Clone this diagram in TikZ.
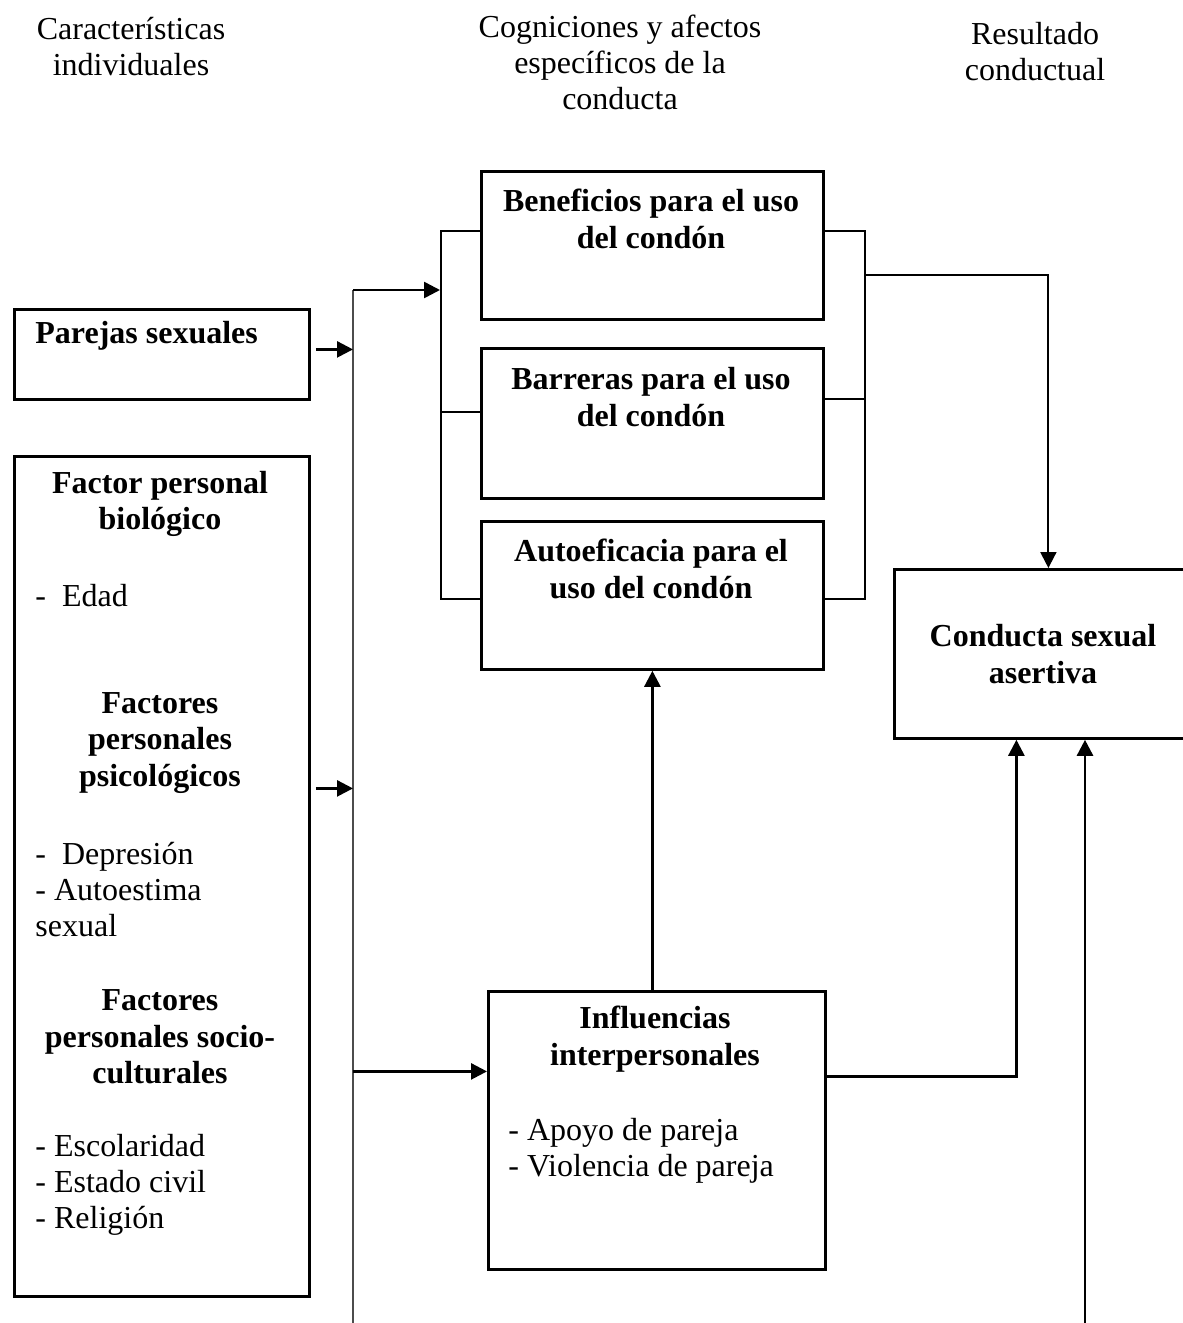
\documentclass[tikz,border=0pt]{standalone}
\usepackage{fontspec}
\setmainfont{Liberation Serif}
\usetikzlibrary{arrows.meta, positioning, calc}

\begin{document}
\begin{tikzpicture}[x=0.5pt, y=-0.5pt,
    caja/.style={draw, line width=1.4pt, inner sep=0pt, anchor=north west},
    titulo/.style={align=center, inner sep=0pt, font=\fontsize{16}{18}\selectfont},
    negrita/.style={align=center, inner sep=0pt, font=\fontsize{16}{18.3}\selectfont\bfseries},
    lista/.style={align=left, anchor=west, inner sep=0pt, font=\fontsize{16}{18}\selectfont},
    linea/.style={line width=1pt},
    flecha/.style={line width=1.3pt, -{Triangle[length=8pt, width=8pt]}}]
  \useasboundingbox (0,0) rectangle (1183,1323);

  % Encabezados
  \node[titulo] (col1) at (131,47) {Características\\individuales};
  \node[titulo] (col2) at (620,62) {Cogniciones y afectos\\específicos de la\\conducta};
  \node[titulo] (col3) at (1035,52) {Resultado\\conductual};

  % Características individuales
  \node[caja, minimum width=147.5pt, minimum height=45pt] (parejas) at (13,308) {};
  \node[lista, font=\fontsize{16}{18}\selectfont\bfseries] (t parejas) at (35,336) {Parejas sexuales};

  \node[caja, minimum width=147.5pt, minimum height=420pt] (factores) at (13,455) {};
  \node[negrita] (t bio) at (160,504) {Factor personal\\biológico};
  \node[lista] (l bio) at (35,596) {-\hspace{8pt}Edad};
  \node[negrita] (t psico) at (160,743) {Factores\\personales\\psicológicos};
  \node[lista] (l psico) at (35,890) {-\hspace{8pt}Depresión\\- Autoestima\\sexual};
  \node[negrita] (t socio) at (160,1037) {Factores\\personales socio-\\culturales};
  \node[lista] (l socio) at (35,1185) {- Escolaridad\\- Estado civil\\- Religión};

  % Cogniciones y afectos
  \node[caja, minimum width=171pt, minimum height=74pt] (beneficios) at (480,170) {};
  \node[negrita] (t beneficios) at (651,219) {Beneficios para el uso\\del condón};
  \node[caja, minimum width=171pt, minimum height=75pt] (barreras) at (480,347) {};
  \node[negrita] (t barreras) at (651,397) {Barreras para el uso\\del condón};
  \node[caja, minimum width=171pt, minimum height=74pt] (autoeficacia) at (480,520) {};
  \node[negrita] (t autoeficacia) at (651,569) {Autoeficacia para el\\uso del condón};

  \node[caja, minimum width=168.5pt, minimum height=139pt] (influencias) at (487,990) {};
  \node[negrita] (t influencias) at (655,1039) {Influencias\\interpersonales};
  \node[lista] (l influencias) at (508,1151) {- Apoyo de pareja\\- Violencia de pareja};

  % Resultado conductual
  \node[caja, minimum width=147pt, minimum height=84.5pt] (conducta) at (893,568) {};
  \node[negrita] (t conducta) at (1043,654) {Conducta sexual\\asertiva};

  % Linea vertical
  \coordinate (bus arriba) at (353,290);
  \coordinate (bus abajo) at (353,1323);
  \draw[linea, black!70] (bus arriba) -- (bus abajo);
  \draw[flecha] ([xshift=2.5pt, yshift=2.5pt]parejas.east) -- ([yshift=2.5pt]parejas.east -| bus arriba);
  \draw[flecha] ([xshift=2.5pt, yshift=44pt]factores.east) -- ([yshift=44pt]factores.east -| bus arriba);

  % Corchetes
  \coordinate (entrada) at (440,290);
  \draw[flecha] (bus arriba) -- (entrada);
  \draw[linea] ([yshift=7pt]beneficios.west) -- ++(-39,0) |- ([yshift=-2pt]autoeficacia.west);
  \draw[linea] ([yshift=5.5pt]barreras.west) -- ++(-39,0);
  \draw[linea] ([yshift=7pt]beneficios.east) -- ++(40,0) |- ([yshift=-2pt]autoeficacia.east);
  \draw[linea] ([yshift=12pt]barreras.east) -- ++(40,0);
  \draw[flecha, line width=1pt] ([xshift=20pt, yshift=-15pt]beneficios.east) -| ([xshift=3.5pt]conducta.north);

  % Influencias
  \draw[flecha] ([yshift=29.5pt]influencias.west -| bus arriba) -- ([yshift=29.5pt]influencias.west);
  \draw[flecha] (influencias.north -| autoeficacia.south) -- (autoeficacia.south);
  \draw[flecha] ([yshift=27pt]influencias.east) -| ([xshift=-12.5pt]conducta.south);
  \coordinate (entrada abajo) at (1085,1323);
  \draw[flecha] (entrada abajo) -- (entrada abajo |- conducta.south);
\end{tikzpicture}
\end{document}
